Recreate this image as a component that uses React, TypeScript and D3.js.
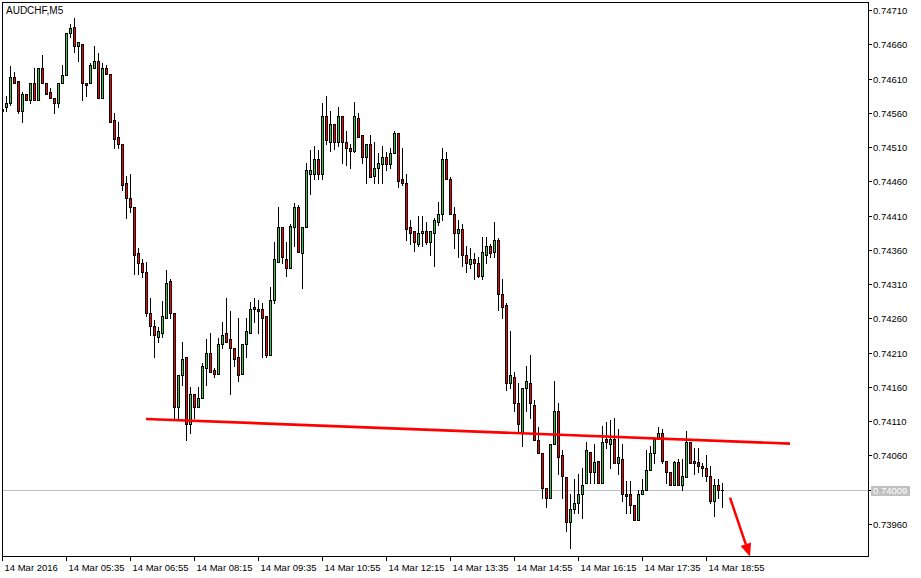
import React, { useEffect, useRef } from 'react';
import * as d3 from 'd3';

// chart values (AUDCHF M5, 14 Mar 2016)
const symbolTitle = "AUDCHF,M5";
const lastPrice = 0.74009;

const priceTicks = [0.74710, 0.74660, 0.74610, 0.74560, 0.74510, 0.74460, 0.74410, 0.74360,
  0.74310, 0.74260, 0.74210, 0.74160, 0.74110, 0.74060, 0.74010, 0.73960];

const timeTickBars = [0, 16, 32, 48, 64, 80, 96, 112, 128, 144, 160, 176];
const timeTickLabels = ["14 Mar 2016", "14 Mar 05:35", "14 Mar 06:55", "14 Mar 08:15", "14 Mar 09:35",
  "14 Mar 10:55", "14 Mar 12:15", "14 Mar 13:35", "14 Mar 14:55", "14 Mar 16:15", "14 Mar 17:35", "14 Mar 18:55"];

const opens = [
  0.74563, 0.74568, 0.74574, 0.74612, 0.74606, 0.74562, 0.74588, 0.74578, 0.74604, 0.74578,
  0.74626, 0.74603, 0.74591, 0.74582, 0.74574, 0.74604, 0.74615, 0.74677, 0.74685, 0.74658,
  0.74661, 0.74603, 0.74603, 0.74626, 0.74635, 0.74582, 0.74626, 0.74616, 0.74549, 0.74524,
  0.74515, 0.74457, 0.74436, 0.74422, 0.74355, 0.74340, 0.74328, 0.74268, 0.74248, 0.74232,
  0.74239, 0.74261, 0.74314, 0.74268, 0.74130, 0.74177, 0.74203, 0.74106, 0.74149, 0.74130,
  0.74144, 0.74188, 0.74210, 0.74184, 0.74179, 0.74223, 0.74238, 0.74229, 0.74216, 0.74203,
  0.74178, 0.74223, 0.74239, 0.74276, 0.74273, 0.74274, 0.74263, 0.74206, 0.74287, 0.74342,
  0.74393, 0.74346, 0.74333, 0.74393, 0.74423, 0.74355, 0.74393, 0.74471, 0.74471, 0.74492,
  0.74471, 0.74555, 0.74518, 0.74543, 0.74517, 0.74555, 0.74517, 0.74509, 0.74504, 0.74553,
  0.74527, 0.74495, 0.74514, 0.74467, 0.74479, 0.74485, 0.74495, 0.74485, 0.74501, 0.74530,
  0.74463, 0.74458, 0.74393, 0.74387, 0.74369, 0.74384, 0.74387, 0.74372, 0.74385, 0.74400,
  0.74412, 0.74492, 0.74463, 0.74412, 0.74384, 0.74390, 0.74352, 0.74339, 0.74346, 0.74340,
  0.74321, 0.74353, 0.74365, 0.74356, 0.74374, 0.74296, 0.74279, 0.74165, 0.74174, 0.74136,
  0.74093, 0.74158, 0.74166, 0.74134, 0.74082, 0.74063, 0.74012, 0.73998, 0.74077, 0.74124,
  0.74060, 0.74028, 0.73963, 0.73982, 0.73991, 0.74004, 0.74019, 0.74065, 0.74036, 0.74051,
  0.74019, 0.74083, 0.74077, 0.74084, 0.74048, 0.74054, 0.74003, 0.74004, 0.73987, 0.73965,
  0.74004, 0.74010, 0.74038, 0.74064, 0.74083, 0.74093, 0.74052, 0.74036, 0.74017, 0.74050,
  0.74017, 0.74028, 0.74080, 0.74051, 0.74050, 0.74044, 0.74042, 0.74030, 0.73993, 0.74016,
  0.74009];

const highs = [
  0.74572, 0.74584, 0.74628, 0.74620, 0.74606, 0.74590, 0.74588, 0.74604, 0.74625, 0.74626,
  0.74644, 0.74603, 0.74596, 0.74582, 0.74604, 0.74629, 0.74677, 0.74689, 0.74699, 0.74663,
  0.74661, 0.74603, 0.74633, 0.74658, 0.74647, 0.74632, 0.74629, 0.74616, 0.74560, 0.74546,
  0.74515, 0.74467, 0.74470, 0.74422, 0.74363, 0.74346, 0.74342, 0.74290, 0.74257, 0.74247,
  0.74285, 0.74331, 0.74317, 0.74268, 0.74177, 0.74225, 0.74204, 0.74159, 0.74150, 0.74159,
  0.74194, 0.74229, 0.74238, 0.74188, 0.74231, 0.74254, 0.74290, 0.74271, 0.74216, 0.74261,
  0.74223, 0.74260, 0.74283, 0.74289, 0.74287, 0.74282, 0.74263, 0.74305, 0.74371, 0.74422,
  0.74393, 0.74371, 0.74397, 0.74428, 0.74426, 0.74393, 0.74486, 0.74505, 0.74511, 0.74505,
  0.74574, 0.74584, 0.74562, 0.74544, 0.74568, 0.74555, 0.74533, 0.74514, 0.74575, 0.74559,
  0.74528, 0.74514, 0.74528, 0.74517, 0.74501, 0.74511, 0.74502, 0.74508, 0.74533, 0.74530,
  0.74509, 0.74471, 0.74404, 0.74387, 0.74409, 0.74410, 0.74400, 0.74388, 0.74407, 0.74429,
  0.74508, 0.74502, 0.74466, 0.74423, 0.74404, 0.74398, 0.74365, 0.74363, 0.74355, 0.74350,
  0.74379, 0.74378, 0.74369, 0.74401, 0.74377, 0.74317, 0.74282, 0.74241, 0.74181, 0.74165,
  0.74158, 0.74190, 0.74206, 0.74140, 0.74101, 0.74063, 0.74012, 0.74077, 0.74168, 0.74136,
  0.74068, 0.74028, 0.74004, 0.74026, 0.74033, 0.74042, 0.74080, 0.74065, 0.74077, 0.74051,
  0.74103, 0.74108, 0.74112, 0.74114, 0.74099, 0.74077, 0.74023, 0.74023, 0.73987, 0.74009,
  0.74025, 0.74067, 0.74074, 0.74084, 0.74101, 0.74099, 0.74052, 0.74036, 0.74052, 0.74055,
  0.74054, 0.74095, 0.74080, 0.74071, 0.74071, 0.74048, 0.74060, 0.74045, 0.74026, 0.74025,
  0.74020];

const lows = [
  0.74546, 0.74563, 0.74571, 0.74603, 0.74560, 0.74547, 0.74578, 0.74574, 0.74579, 0.74578,
  0.74603, 0.74588, 0.74581, 0.74559, 0.74568, 0.74604, 0.74615, 0.74671, 0.74648, 0.74636,
  0.74578, 0.74585, 0.74603, 0.74626, 0.74582, 0.74582, 0.74616, 0.74546, 0.74509, 0.74509,
  0.74447, 0.74407, 0.74415, 0.74325, 0.74325, 0.74320, 0.74264, 0.74236, 0.74203, 0.74225,
  0.74232, 0.74261, 0.74261, 0.74111, 0.74111, 0.74162, 0.74082, 0.74092, 0.74115, 0.74130,
  0.74144, 0.74162, 0.74181, 0.74174, 0.74179, 0.74217, 0.74226, 0.74149, 0.74191, 0.74169,
  0.74178, 0.74204, 0.74239, 0.74255, 0.74238, 0.74203, 0.74203, 0.74206, 0.74282, 0.74342,
  0.74340, 0.74321, 0.74333, 0.74365, 0.74356, 0.74304, 0.74393, 0.74441, 0.74464, 0.74464,
  0.74464, 0.74515, 0.74504, 0.74507, 0.74512, 0.74487, 0.74483, 0.74480, 0.74502, 0.74525,
  0.74487, 0.74458, 0.74466, 0.74457, 0.74458, 0.74458, 0.74477, 0.74479, 0.74501, 0.74451,
  0.74455, 0.74374, 0.74369, 0.74358, 0.74365, 0.74366, 0.74369, 0.74352, 0.74337, 0.74396,
  0.74403, 0.74463, 0.74412, 0.74363, 0.74350, 0.74336, 0.74327, 0.74333, 0.74317, 0.74320,
  0.74317, 0.74340, 0.74349, 0.74349, 0.74272, 0.74261, 0.74155, 0.74158, 0.74124, 0.74093,
  0.74074, 0.74125, 0.74114, 0.74082, 0.74063, 0.73997, 0.73984, 0.73998, 0.74077, 0.74033,
  0.73998, 0.73950, 0.73924, 0.73975, 0.73976, 0.73968, 0.74019, 0.74020, 0.74020, 0.74019,
  0.74019, 0.74071, 0.74042, 0.74048, 0.74032, 0.73993, 0.73976, 0.73975, 0.73965, 0.73965,
  0.74004, 0.74010, 0.74038, 0.74048, 0.74083, 0.74048, 0.74020, 0.74017, 0.74017, 0.74017,
  0.74009, 0.74028, 0.74048, 0.74033, 0.74035, 0.74030, 0.74023, 0.73991, 0.73971, 0.73997,
  0.73984];

const closes = [
  0.74566, 0.74574, 0.74612, 0.74604, 0.74562, 0.74588, 0.74578, 0.74604, 0.74579, 0.74626,
  0.74603, 0.74588, 0.74582, 0.74574, 0.74604, 0.74615, 0.74677, 0.74683, 0.74658, 0.74663,
  0.74603, 0.74601, 0.74629, 0.74635, 0.74582, 0.74626, 0.74616, 0.74546, 0.74521, 0.74515,
  0.74455, 0.74436, 0.74422, 0.74352, 0.74340, 0.74327, 0.74267, 0.74248, 0.74236, 0.74241,
  0.74263, 0.74311, 0.74267, 0.74130, 0.74177, 0.74201, 0.74106, 0.74149, 0.74130, 0.74144,
  0.74190, 0.74210, 0.74182, 0.74179, 0.74223, 0.74236, 0.74226, 0.74216, 0.74201, 0.74177,
  0.74223, 0.74242, 0.74274, 0.74273, 0.74270, 0.74261, 0.74206, 0.74287, 0.74346, 0.74393,
  0.74349, 0.74334, 0.74394, 0.74423, 0.74356, 0.74393, 0.74476, 0.74477, 0.74492, 0.74471,
  0.74555, 0.74520, 0.74543, 0.74518, 0.74555, 0.74517, 0.74509, 0.74504, 0.74555, 0.74525,
  0.74495, 0.74514, 0.74466, 0.74480, 0.74486, 0.74495, 0.74485, 0.74501, 0.74531, 0.74460,
  0.74458, 0.74391, 0.74385, 0.74371, 0.74384, 0.74387, 0.74371, 0.74388, 0.74403, 0.74412,
  0.74492, 0.74463, 0.74412, 0.74384, 0.74390, 0.74353, 0.74340, 0.74346, 0.74340, 0.74321,
  0.74356, 0.74366, 0.74355, 0.74374, 0.74296, 0.74276, 0.74165, 0.74177, 0.74137, 0.74106,
  0.74158, 0.74168, 0.74136, 0.74082, 0.74063, 0.74012, 0.73998, 0.74077, 0.74125, 0.74058,
  0.74029, 0.73962, 0.73981, 0.73991, 0.74004, 0.74017, 0.74068, 0.74035, 0.74050, 0.74019,
  0.74080, 0.74079, 0.74084, 0.74048, 0.74057, 0.74003, 0.74001, 0.73987, 0.73965, 0.74003,
  0.74010, 0.74038, 0.74064, 0.74083, 0.74092, 0.74052, 0.74035, 0.74017, 0.74050, 0.74017,
  0.74030, 0.74080, 0.74048, 0.74048, 0.74044, 0.74042, 0.74030, 0.73993, 0.74016, 0.74009,
  0.74009];

// drawn objects on the chart: support line and the arrow (bar index, price)
const trendBars = [36, 197];
const trendPrices = [0.74113, 0.74077];
const arrowBars = [182, 187];
const arrowPrices = [0.73998, 0.73912];

const App = () => {
  const ref = useRef<SVGSVGElement>(null);

  useEffect(() => {
    drawChart();
    return () => {
      d3.select(ref.current).selectAll("*").remove();
    };
  }, []);

  const drawChart = () => {
    const width = 921;
    const height = 578;
    // plot frame
    const left = 2, top = 2, right = 868, bottom = 556;
    const bullColor = "#32cd32";
    const bearColor = "#ff0000";
    const font = "'Liberation Sans', Arial, sans-serif";

    const svg = d3.select(ref.current);
    svg.append("rect").attr("width", width).attr("height", height).attr("fill", "white");

    // 4px per bar, bar 0 sits on the left border
    const x = d3.scaleLinear().domain([0, 1]).range([2, 6]);
    const y = d3.scaleLinear().domain([0.73960, 0.74710]).range([523.75, 10]);
    const px = (i: number) => Math.round(x(i)) + 0.5;
    const py = (p: number) => Math.round(y(p));

    svg.append("defs").append("clipPath").attr("id", "plotClip")
      .append("rect")
      .attr("x", left + 1).attr("y", top + 1)
      .attr("width", right - left - 1).attr("height", bottom - top - 1);

    const plot = svg.append("g").attr("clip-path", "url(#plotClip)");

    // bid line
    plot.append("line")
      .attr("x1", left).attr("x2", right)
      .attr("y1", py(lastPrice) + 0.5).attr("y2", py(lastPrice) + 0.5)
      .attr("stroke", "#c0c0c0").attr("stroke-width", 1)
      .attr("shape-rendering", "crispEdges");

    const bars = d3.range(opens.length);
    const candle = plot.selectAll(".candle")
      .data(bars)
      .enter().append("g")
      .attr("class", "candle")
      .attr("shape-rendering", "crispEdges");

    // wicks
    candle.append("line")
      .attr("x1", d => px(d)).attr("x2", d => px(d))
      .attr("y1", d => py(highs[d]))
      .attr("y2", d => py(lows[d]) + 1)
      .attr("stroke", "black").attr("stroke-width", 1);

    // bodies
    candle.each(function (d) {
      const g = d3.select(this);
      const o = opens[d], c = closes[d];
      const yTop = py(Math.max(o, c));
      const yBot = py(Math.min(o, c));
      const cx = px(d);
      if (yTop === yBot) {
        g.append("line")
          .attr("x1", cx - 1.5).attr("x2", cx + 1.5)
          .attr("y1", yTop + 0.5).attr("y2", yTop + 0.5)
          .attr("stroke", "black");
      } else {
        g.append("rect")
          .attr("x", cx - 1).attr("y", yTop + 0.5)
          .attr("width", 2).attr("height", yBot - yTop)
          .attr("fill", c > o ? bullColor : bearColor)
          .attr("stroke", "black").attr("stroke-width", 1);
      }
    });

    // support line
    plot.append("line")
      .attr("x1", x(trendBars[0])).attr("y1", y(trendPrices[0]))
      .attr("x2", x(trendBars[1])).attr("y2", y(trendPrices[1]))
      .attr("stroke", "#ff0000").attr("stroke-width", 2.6);

    // arrow
    const ax1 = x(arrowBars[0]), ay1 = y(arrowPrices[0]);
    const ax2 = x(arrowBars[1]), ay2 = y(arrowPrices[1]);
    const ang = Math.atan2(ay2 - ay1, ax2 - ax1);
    const headLen = 13, headHalf = 5.5;
    const bx = ax2 - headLen * Math.cos(ang), by = ay2 - headLen * Math.sin(ang);
    plot.append("line")
      .attr("x1", ax1).attr("y1", ay1).attr("x2", bx).attr("y2", by)
      .attr("stroke", "#ff0000").attr("stroke-width", 2.5);
    plot.append("path")
      .attr("d", `M${ax2},${ay2}L${bx + headHalf * Math.sin(ang)},${by - headHalf * Math.cos(ang)}L${bx - headHalf * Math.sin(ang)},${by + headHalf * Math.cos(ang)}Z`)
      .attr("fill", "#ff0000");

    // frame
    svg.append("rect")
      .attr("x", left + 0.5).attr("y", top + 0.5)
      .attr("width", right - left).attr("height", bottom - top)
      .attr("fill", "none").attr("stroke", "black")
      .attr("shape-rendering", "crispEdges");

    // price axis
    const pAxis = svg.append("g");
    priceTicks.forEach(p => {
      const ty = py(p) + 0.5;
      pAxis.append("line")
        .attr("x1", right + 1).attr("x2", right + 4)
        .attr("y1", ty).attr("y2", ty)
        .attr("stroke", "black").attr("shape-rendering", "crispEdges");
      pAxis.append("text")
        .attr("x", right + 5).attr("y", ty + 3.5)
        .attr("font-family", font).attr("font-size", "9.5px")
        .attr("fill", "black")
        .text(p.toFixed(5));
    });

    // last price tag
    const ly = py(lastPrice);
    svg.append("rect")
      .attr("x", right + 3).attr("y", ly - 4)
      .attr("width", 39).attr("height", 10)
      .attr("fill", "#c0c0c0");
    svg.append("text")
      .attr("x", right + 5).attr("y", ly + 4)
      .attr("font-family", font).attr("font-size", "9.5px")
      .attr("fill", "white")
      .text(lastPrice.toFixed(5));

    // time axis
    const tAxis = svg.append("g");
    timeTickBars.forEach((b, i) => {
      const tx = px(b);
      tAxis.append("line")
        .attr("x1", tx).attr("x2", tx)
        .attr("y1", bottom + 1).attr("y2", bottom + 5)
        .attr("stroke", "black").attr("shape-rendering", "crispEdges");
      tAxis.append("text")
        .attr("x", tx + 2).attr("y", bottom + 14.5)
        .attr("font-family", font).attr("font-size", "9.5px")
        .attr("fill", "black")
        .text(timeTickLabels[i]);
    });

    // symbol title
    svg.append("text")
      .attr("x", 6).attr("y", 14)
      .attr("font-family", font).attr("font-size", "10px")
      .attr("fill", "black")
      .text(symbolTitle);
  };

  return (
    <svg ref={ref} width={921} height={578}
      style={{ position: 'absolute', left: 0, top: 0, display: 'block' }} />
  );
};

export default App;
